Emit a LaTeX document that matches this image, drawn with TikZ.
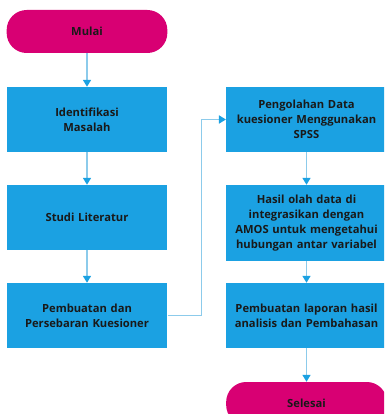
\documentclass[tikz,border=0pt]{standalone}
\usepackage{fontspec}
\setmainfont{Open Sans}
\usepackage{tikz}
\usetikzlibrary{arrows.meta, positioning, calc}

\definecolor{kotakbiru}{HTML}{1BA1E2}
\definecolor{ujungmerah}{HTML}{D80073}
\definecolor{garisbiru}{HTML}{8CCBEB}

\tikzset{
  proses/.style={rectangle, fill=kotakbiru, draw=none, minimum width=156pt,
    minimum height=65pt, align=center, text width=154pt,
    font=\fontsize{11.2}{15}\selectfont\bfseries, text=black!90},
  terminal/.style={proses, fill=ujungmerah, rounded corners=20pt, minimum height=43pt},
  panah/.style={draw=garisbiru, line width=1.6pt,
    -{Triangle[color=kotakbiru, width=8pt, length=7pt]}}
}

\begin{document}
\begin{tikzpicture}[x=1pt, y=-1pt]
\clip (0,0) rectangle (384,414);

% kolom kiri
\node[terminal] (mulai) at (87,31.5) {Mulai};
\node[proses] (identifikasi) at (87,119.5) {Identifikasi\\Masalah};
\node[proses] (studi) at (87,217.5) {Studi Literatur};
\node[proses] (pembuatan) at (87,315.5) {Pembuatan dan\\Persebaran Kuesioner};

% kolom kanan
\node[proses] (pengolahan) at (306.5,119.5) {Pengolahan Data\\kuesioner Menggunakan\\SPSS};
\node[proses, minimum height=76pt] (hasil) at (306.5,223) {Hasil olah data di\\integrasikan dengan\\AMOS untuk mengetahui\\hubungan antar variabel};
\node[proses] (laporan) at (306.5,315.5) {Pembuatan laporan hasil\\analisis dan Pembahasan};
\node[terminal] (selesai) at (306.5,403.5) {Selesai};

% alur
\draw[panah] (mulai) -- (identifikasi);
\draw[panah] (identifikasi) -- (studi);
\draw[panah] (studi) -- (pembuatan);
\draw[panah] (pembuatan.east) -- ++(34,0) |- (pengolahan.west);
\draw[panah] (pengolahan) -- (hasil);
\draw[panah] (hasil) -- (laporan);
\draw[panah] (laporan) -- (selesai);
\end{tikzpicture}
\end{document}
